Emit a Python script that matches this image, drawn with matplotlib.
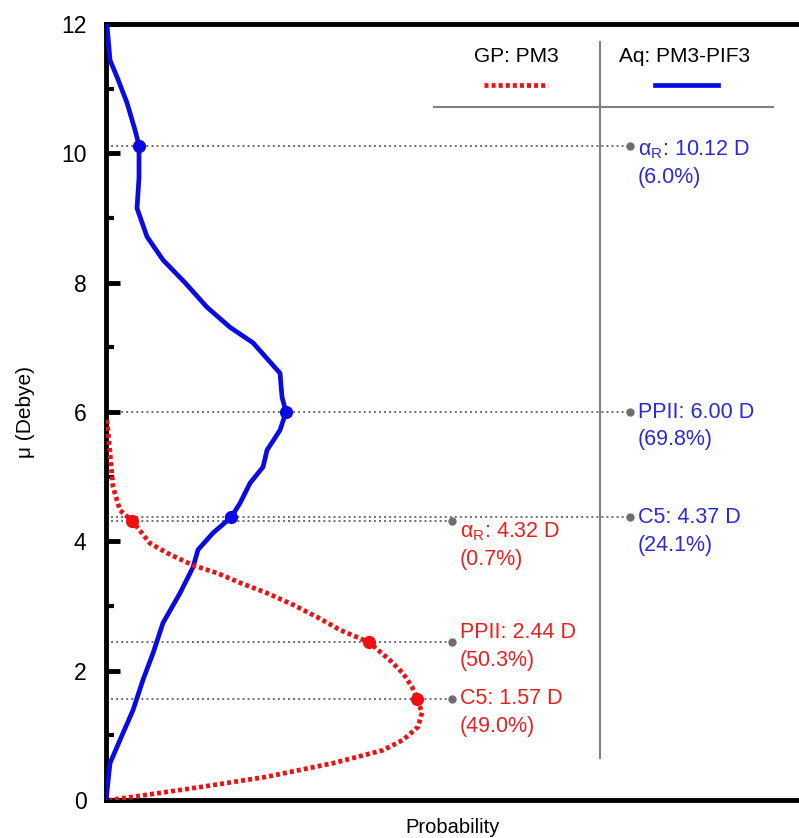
import numpy as np
import matplotlib.pyplot as plt

plt.rcParams['font.family'] = ['Liberation Sans', 'DejaVu Sans']

# Aq: PM3-PIF3 distribution (blue), mu in Debye vs probability (arbitrary units)
aq_mu = [11.98, 11.44, 11.18, 10.78, 10.36, 10.12, 9.63, 9.15, 8.71, 8.35, 8.0,
         7.62, 7.31, 7.07, 6.60, 6.23, 6.0, 5.72, 5.41, 5.15, 4.90, 4.59, 4.37,
         4.13, 3.87, 3.60, 3.20, 2.74, 2.27, 1.86, 1.39, 0.93, 0.57, 0.0]
aq_prob = [0.01, 0.04, 0.11, 0.21, 0.29, 0.33, 0.33, 0.31, 0.41, 0.57, 0.79,
           1.01, 1.24, 1.47, 1.74, 1.76, 1.80, 1.74, 1.61, 1.57, 1.44, 1.34, 1.25,
           1.07, 0.92, 0.87, 0.74, 0.57, 0.47, 0.37, 0.27, 0.14, 0.04, 0.0]

# GP: PM3 distribution (red dotted)
gp_mu = [5.88, 5.37, 4.84, 4.48, 4.32, 3.97, 3.82, 3.63, 3.51, 3.36, 3.20, 3.02,
         2.83, 2.63, 2.44, 2.16, 1.96, 1.75, 1.57, 1.35, 1.13, 0.93, 0.77, 0.57,
         0.36, 0.20, 0.05, 0.0]
gp_prob = [0.01, 0.04, 0.07, 0.14, 0.26, 0.44, 0.61, 0.87, 1.11, 1.34, 1.61, 1.87,
           2.11, 2.34, 2.63, 2.84, 2.97, 3.06, 3.11, 3.16, 3.12, 2.97, 2.77, 2.27,
           1.61, 0.94, 0.27, 0.04]

# conformer averages
gp_peaks = [4.32, 2.44, 1.57]
gp_names = ['α$\\mathregular{_R}$', 'PPII', 'C5']
gp_pct = ['0.7%', '50.3%', '49.0%']
gp_dy = [-0.17, 0.15, 0.0]

aq_peaks = [10.12, 6.00, 4.37]
aq_names = ['α$\\mathregular{_R}$', 'PPII', 'C5']
aq_pct = ['6.0%', '69.8%', '24.1%']
aq_dy = [-0.06, 0.0, 0.0]

red = '#ee1111'
blue = '#0a0ae6'
gray = '#6e6e6e'

fig = plt.figure(figsize=(7.99, 8.38), dpi=100)
ax = fig.add_axes([0.1327, 0.0453, 0.8673, 0.9261])

ax.plot(aq_prob, aq_mu, color=blue, lw=3.4, solid_joinstyle='round', zorder=3)
ax.plot(gp_prob, gp_mu, color=red, lw=3.4, linestyle=(0, (0.85, 0.65)), zorder=3)


def annotate(peaks, names, pcts, dys, mu, prob, end_x, color, txt_color):
    for pk, nm, pc, dy in zip(peaks, names, pcts, dys):
        px = np.interp(pk, mu[::-1], prob[::-1])
        ax.plot([0, end_x], [pk, pk], color=gray, lw=1.4, linestyle=(0, (1, 1.6)), zorder=1)
        ax.plot(end_x, pk, 'o', color=gray, ms=5, zorder=2)
        ax.plot(px, pk, 'o', color=color, ms=8.5, zorder=4)
        ax.text(end_x + 0.08, pk + dy, f'{nm}: {pk:.2f} D', color=txt_color,
                fontsize=15.5, va='center', ha='left')
        ax.text(end_x + 0.08, pk + dy - 0.43, f'({pc})', color=txt_color,
                fontsize=15.5, va='center', ha='left')


annotate(gp_peaks, gp_names, gp_pct, gp_dy, gp_mu, gp_prob, 3.46, red, '#e82020')
annotate(aq_peaks, aq_names, aq_pct, aq_dy, aq_mu, aq_prob, 5.24, blue, '#2a2ad6')

# legend table
ax.plot([4.94, 4.94], [0.65, 11.72], color='#808080', lw=1.5, zorder=1)
ax.plot([3.28, 6.67], [10.72, 10.72], color='#808080', lw=1.5, zorder=1)
ax.text(4.10, 11.49, 'GP: PM3', fontsize=15, ha='center', va='center')
ax.text(5.79, 11.49, 'Aq: PM3-PIF3', fontsize=15, ha='center', va='center')
ax.plot([3.78, 4.42], [11.06, 11.06], color=red, lw=3.4, linestyle=(0, (0.85, 0.65)))
ax.plot([5.49, 6.12], [11.06, 11.06], color=blue, lw=3.4)

ax.set_xlim(0, 6.93)
ax.set_ylim(0, 12)
ax.set_yticks(range(0, 13, 2))
ax.set_yticks(range(1, 12, 2), minor=True)
ax.set_xticks([])
ax.tick_params(axis='y', which='major', direction='in', length=10, width=3.5,
               labelsize=16.5, pad=14)
ax.tick_params(axis='y', which='minor', direction='in', length=6, width=3)
for s in ['left', 'top', 'bottom']:
    ax.spines[s].set_linewidth(3.5)
ax.spines['right'].set_visible(False)

ax.set_ylabel('μ (Debye)', fontsize=15, labelpad=19)
ax.set_xlabel('Probability', fontsize=14.5, labelpad=13)

fig.savefig('out.png', dpi=100)
